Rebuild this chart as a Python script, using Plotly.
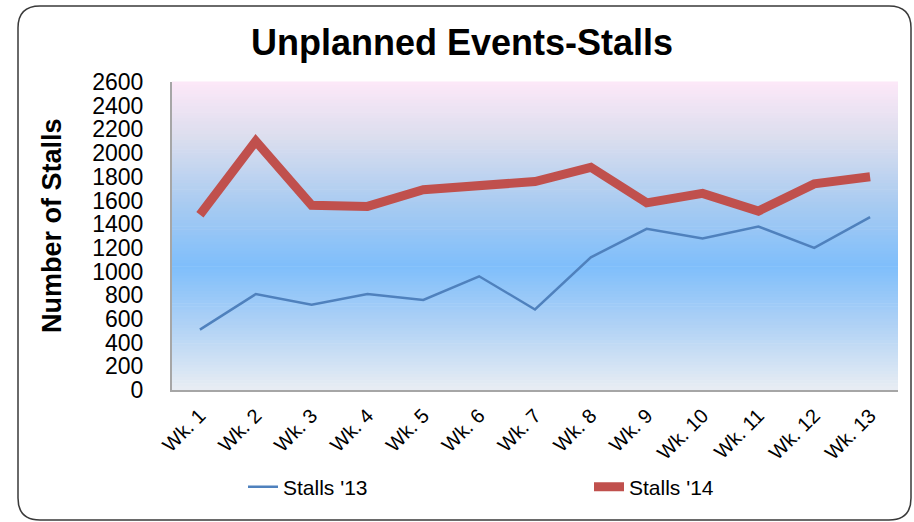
import plotly.graph_objects as go

weeks = ["Wk. 1", "Wk. 2", "Wk. 3", "Wk. 4", "Wk. 5", "Wk. 6", "Wk. 7",
         "Wk. 8", "Wk. 9", "Wk. 10", "Wk. 11", "Wk. 12", "Wk. 13"]
stalls_13 = [510, 810, 720, 810, 760, 960, 680, 1120, 1360, 1280, 1380, 1200, 1460]
stalls_14 = [1480, 2100, 1560, 1550, 1690, 1720, 1760, 1880, 1580, 1660, 1510, 1740, 1800]
y_ticks = list(range(0, 2601, 200))

W, H = 914, 522
L, R, T, B = 172, 898, 82, 390  # plot area in px


def px_x(p):
    return (p - L) / (R - L)


def px_y(p):
    return (B - p) / (B - T)


FONT = "Liberation Sans, Arial, sans-serif"

fig = go.Figure()
fig.add_trace(go.Scatter(x=weeks, y=stalls_13, mode="lines", name="Stalls '13",
                         line=dict(color="#4F81BD", width=2.5), legend="legend"))
fig.add_trace(go.Scatter(x=weeks, y=stalls_14, mode="lines", name="Stalls '14",
                         line=dict(color="#C0504D", width=9), legend="legend2"))

# gradient background bands (fraction from top, rgb)
stops = [(0.0, (253, 232, 248)), (0.18, (220, 222, 238)), (0.40, (168, 203, 241)),
         (0.60, (127, 190, 251)), (0.80, (178, 211, 245)), (1.0, (232, 237, 243))]


def col_at(f):
    for (f0, c0), (f1, c1) in zip(stops[:-1], stops[1:]):
        if f0 <= f <= f1:
            t = (f - f0) / (f1 - f0)
            return "rgb(%d,%d,%d)" % tuple(round(a + (b - a) * t) for a, b in zip(c0, c1))
    return "rgb(%d,%d,%d)" % stops[-1][1]


shapes = []
N = 100
for i in range(N):
    y1 = 1 - i / N
    y0 = 1 - (i + 1) / N
    shapes.append(dict(type="rect", xref="paper", yref="paper", x0=0, x1=1,
                       y0=y0, y1=y1 + 0.002, fillcolor=col_at((i + 0.5) / N),
                       line=dict(width=0), layer="below"))

# rounded outer border
x0, x1 = px_x(18), px_x(911)
y0, y1 = px_y(520), px_y(6)
rx, ry = 22 / (R - L), 22 / (B - T)
path = (f"M{x0+rx},{y1} L{x1-rx},{y1} Q{x1},{y1} {x1},{y1-ry} "
        f"L{x1},{y0+ry} Q{x1},{y0} {x1-rx},{y0} L{x0+rx},{y0} "
        f"Q{x0},{y0} {x0},{y0+ry} L{x0},{y1-ry} Q{x0},{y1} {x0+rx},{y1} Z")
shapes.append(dict(type="path", xref="paper", yref="paper", path=path,
                   line=dict(color="#3a3a3a", width=1.5), layer="above"))

legend_font = dict(family=FONT, size=21, color="black")
fig.update_layout(
    width=W, height=H,
    margin=dict(l=L, r=W - R, t=T, b=H - B),
    paper_bgcolor="white",
    plot_bgcolor="rgba(0,0,0,0)",
    shapes=shapes,
    title=dict(text="<b>Unplanned Events-Stalls</b>", x=462 / W, xanchor="center",
               xref="container", yref="container", y=1 - 42 / H, yanchor="middle",
               font=dict(family=FONT, size=36, color="black")),
    showlegend=True,
    legend=dict(orientation="h", x=px_x(243), xanchor="left", y=px_y(487), yanchor="middle",
                font=legend_font, bgcolor="rgba(0,0,0,0)"),
    legend2=dict(orientation="h", x=px_x(589), xanchor="left", y=px_y(487), yanchor="middle",
                 font=legend_font, bgcolor="rgba(0,0,0,0)"),
    annotations=[dict(text="<b>Number of Stalls</b>", xref="paper", yref="paper",
                      x=px_x(52), y=px_y(226), xanchor="center", yanchor="middle",
                      textangle=-90, showarrow=False,
                      font=dict(family=FONT, size=27, color="black"))],
)

fig.update_xaxes(type="category", range=[-0.5, 12.5], tickangle=-45,
                 tickfont=dict(family=FONT, size=20, color="black"),
                 showgrid=False, showline=True, linecolor="#A6A6A6", linewidth=2,
                 ticks="", ticklabelstandoff=4, zeroline=False, fixedrange=True)
fig.update_yaxes(range=[0, 2600], tickvals=y_ticks, ticktext=[str(v) for v in y_ticks],
                 tickfont=dict(family=FONT, size=23, color="black"),
                 showgrid=False, showline=True, linecolor="#A6A6A6", linewidth=2,
                 ticks="", ticklabelstandoff=22, zeroline=False, fixedrange=True)

fig.write_html("out.html", config={"displayModeBar": False},
               post_script="document.body.style.margin='0';document.body.style.overflow='hidden';")
